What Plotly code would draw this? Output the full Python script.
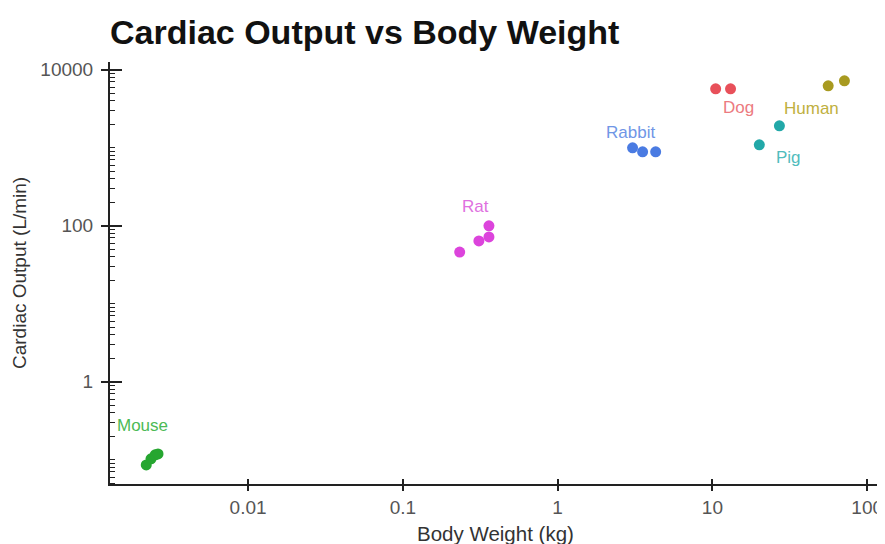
import numpy as np
import plotly.graph_objects as go

species = ["Mouse", "Rat", "Rabbit", "Dog", "Pig", "Human"]
weights = {
    "Mouse": [0.0022, 0.00236, 0.00251, 0.00262],
    "Rat": [0.233, 0.31, 0.36, 0.36],
    "Rabbit": [3.05, 3.54, 4.3],
    "Dog": [10.5, 13.1],
    "Pig": [20.1, 27.1],
    "Human": [56, 71.3],
}
outputs = {
    "Mouse": [0.086, 0.103, 0.116, 0.119],
    "Rat": [46, 64, 72, 100],
    "Rabbit": [1000, 889, 889],
    "Dog": [5700, 5700],
    "Pig": [1092, 1914],
    "Human": [6240, 7220],
}
colors = {
    "Mouse": "#26a630",
    "Rat": "#dc44dc",
    "Rabbit": "#4a7be2",
    "Dog": "#e8505a",
    "Pig": "#22a8a8",
    "Human": "#a89a20",
}
label_colors = {
    "Mouse": "#4cba55",
    "Rat": "#e070e0",
    "Rabbit": "#7096e6",
    "Dog": "#ec7a80",
    "Pig": "#50bcbc",
    "Human": "#c0b040",
}
# pixel offsets of labels from group centre
label_shift = {
    "Mouse": (-10, 33),
    "Rat": (-4, 32),
    "Rabbit": (-13, 18),
    "Dog": (15, -19),
    "Pig": (19, -22),
    "Human": (-25, -25),
}
x_ticks = [0.01, 0.1, 1, 10, 100]
x_ticktext = ["0.01", "0.1", "1", "10", "100"]
y_ticks = [1, 100, 10000]
y_ticktext = ["1", "100", "10000"]

FONT = "Liberation Sans, Arial"
OFF = 8  # page offset of the figure inside the browser page

fig = go.Figure()
for s in species:
    fig.add_trace(go.Scatter(
        x=weights[s], y=outputs[s], mode="markers", name=s,
        marker=dict(color=colors[s], size=11, line=dict(width=0)),
        showlegend=False,
    ))
    cx = float(np.mean(np.log10(weights[s])))
    cy = float(np.mean(np.log10(outputs[s])))
    dx, dy = label_shift[s]
    fig.add_annotation(x=cx, y=cy, xref="x", yref="y", text=s, showarrow=False,
                       xshift=dx, yshift=dy,
                       font=dict(family=FONT, size=17, color=label_colors[s]))

# minor ticks for y
minor_y = []
for k in range(-2, 5):
    for m in range(1, 10):
        v = m * 10.0 ** k
        if v not in y_ticks:
            minor_y.append(v)

xr = [-2.892, 2.07]
yr = [-1.31, 4.10]
axis_font = dict(family=FONT, size=19, color="#555555")
W, H = 885, 544
L, T = 110 - OFF, 62 - OFF
R = W - (878 - OFF)
B = H - (484 - OFF)
pw, ph = W - L - R, H - T - B

fig.update_layout(
    width=W, height=H,
    paper_bgcolor="white", plot_bgcolor="white",
    margin=dict(l=L, r=R, t=T, b=B, autoexpand=False),
    title=dict(text="<b>Cardiac Output vs Body Weight</b>", x=L / W, xanchor="left",
               y=1 - (32 - OFF) / H, yanchor="middle",
               font=dict(family=FONT, size=34, color="#111111")),
    xaxis=dict(type="log", range=xr, tickvals=x_ticks, ticktext=x_ticktext, automargin=False,
               showgrid=False, zeroline=False, showline=True, linecolor="#222222", linewidth=2,
               ticks="outside", ticklen=5, tickwidth=1.5, tickcolor="#222222",
               tickfont=axis_font),
    yaxis=dict(type="log", range=yr, tickvals=y_ticks, ticktext=y_ticktext, automargin=False,
               showgrid=False, zeroline=False, showline=True, linecolor="#222222", linewidth=2,
               ticks="outside", ticklen=7, tickwidth=1.5, tickcolor="#222222",
               tickfont=axis_font, ticklabelstandoff=4,
               minor=dict(tickvals=minor_y, ticks="inside", ticklen=5, tickcolor="#222222", tickwidth=1, showgrid=False)),
    xaxis2=dict(type="log", range=xr, tickvals=x_ticks, overlaying="x", side="bottom", automargin=False,
                showgrid=False, zeroline=False, showline=False, showticklabels=False,
                ticks="inside", ticklen=5, tickwidth=1.5, tickcolor="#222222"),
    yaxis2=dict(type="log", range=yr, tickvals=y_ticks, overlaying="y", side="left", automargin=False,
                showgrid=False, zeroline=False, showline=False, showticklabels=False,
                ticks="inside", ticklen=12, tickwidth=1.5, tickcolor="#222222"),
    font=dict(family=FONT),
)
# axis titles
fig.add_annotation(text="Body Weight (kg)", xref="paper", yref="paper",
                   x=(495 - 110) / pw, y=-(533 - 484) / ph, showarrow=False,
                   xanchor="center", yanchor="middle",
                   font=dict(family=FONT, size=20.5, color="#333333"))
fig.add_annotation(text="Cardiac Output (L/min)", xref="paper", yref="paper",
                   x=(19 - 110) / pw, y=1 - (273 - 62) / ph, showarrow=False, textangle=-90,
                   xanchor="center", yanchor="middle",
                   font=dict(family=FONT, size=19, color="#333333"))
# invisible trace to activate the overlay axes
fig.add_trace(go.Scatter(x=[1], y=[1], xaxis="x2", yaxis="y2", mode="markers",
                         marker=dict(opacity=0), showlegend=False, hoverinfo="skip"))
fig.write_html("out.html")
